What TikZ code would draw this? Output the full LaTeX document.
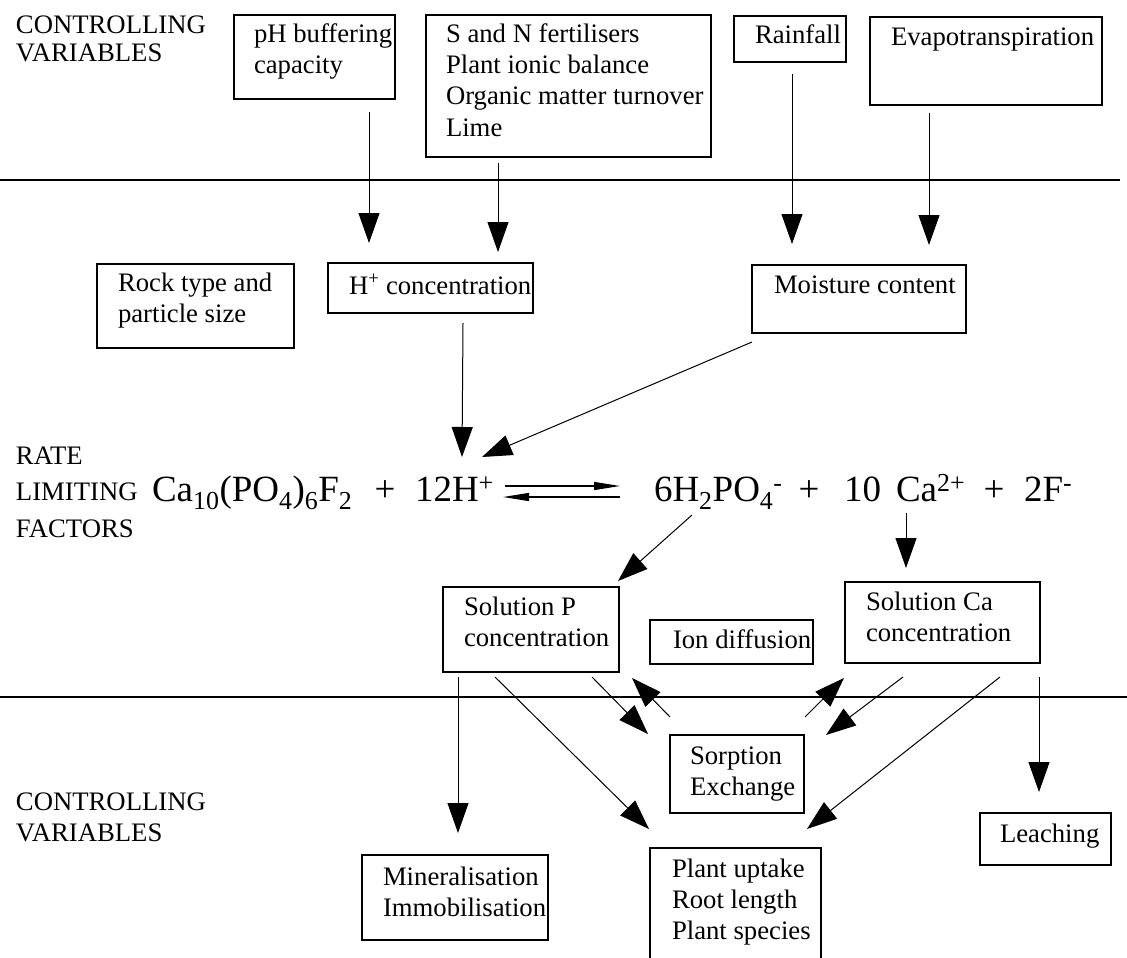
\documentclass[tikz,border=0pt]{standalone}
\usepackage{fontspec}
\setmainfont{Liberation Serif}
\usetikzlibrary{arrows.meta,calc}
\newcommand{\mlines}[1]{\begin{tabular}[t]{@{}l@{}}#1\end{tabular}}
\begin{document}
\begin{tikzpicture}[x=1pt,y=-1pt,
  box/.style={draw, line width=1.1pt, inner sep=0pt, outer sep=0pt},
  txt/.style={anchor=base west, inner sep=0pt, outer sep=0pt, font=\fontsize{26.7pt}{31pt}\selectfont},
  eqtxt/.style={anchor=base west, inner sep=0pt, outer sep=0pt, font=\fontsize{37pt}{40pt}\selectfont},
  arr/.style={line width=1pt, -{Triangle[length=30pt,width=21pt]}},
  eqarr/.style={line width=1.3pt, -{Triangle[length=26pt,width=8pt]}},
  rule/.style={line width=1.5pt}]
\useasboundingbox (0,0) rectangle (1127,958);

% separator lines
\draw[rule] (0,180) -- (1120,180);
\draw[line width=1.1pt] (0,697) -- (1127,697);

% side labels
\node[txt] (ctlA) at (16,34) {CONTROLLING};
\node[txt] (varA) at (16,62) {VARIABLES};
\node[txt] (rate) at (16,464) {RATE};
\node[txt] (limit) at (16,500) {LIMITING};
\node[txt] (factors) at (16,537) {FACTORS};
\node[txt] (ctlB) at (16,810) {CONTROLLING};
\node[txt] (varB) at (16,841) {VARIABLES};

% boxes
\node[box, minimum width=161pt, minimum height=84pt] (ph) at (314.5,57) {};
\node[box, minimum width=285pt, minimum height=142pt] (sn) at (568.5,86) {};
\node[box, minimum width=112pt, minimum height=46pt] (rain) at (790,39) {};
\node[box, minimum width=232pt, minimum height=88pt] (evap) at (986,61) {};
\node[box, minimum width=197pt, minimum height=84pt] (rock) at (195.5,306) {};
\node[box, minimum width=205pt, minimum height=50pt] (hconc) at (430.5,288) {};
\node[box, minimum width=214pt, minimum height=68pt] (moist) at (859,299) {};
\node[box, minimum width=176pt, minimum height=85pt] (solp) at (531,629.5) {};
\node[box, minimum width=163pt, minimum height=44pt] (iond) at (731.5,642) {};
\node[box, minimum width=195pt, minimum height=81pt] (solca) at (942.5,622.5) {};
\node[box, minimum width=134pt, minimum height=78pt] (sorp) at (737,774) {};
\node[box, minimum width=131pt, minimum height=52pt] (leach) at (1045.5,839) {};
\node[box, minimum width=171pt, minimum height=132pt] (plant) at (735.5,914) {};
\node[box, minimum width=186pt, minimum height=85pt] (miner) at (455,897.5) {};

% box texts
\node[txt] (phT) at (254,43) {\mlines{pH buffering\\capacity}};
\node[txt] (snT) at (446,43) {\mlines{S and N fertilisers\\Plant ionic balance\\Organic matter turnover\\Lime}};
\node[txt] (rainT) at (755,44) {Rainfall};
\node[txt] (evapT) at (891,46) {Evapotranspiration};
\node[txt] (rockT) at (118,291) {\mlines{Rock type and\\particle size}};
\node[txt] (hconcT) at (349,294) {H\textsuperscript{+} concentration};
\node[txt] (moistT) at (774,293) {Moisture content};
\node[txt] (solpT) at (464,615) {\mlines{Solution P\\concentration}};
\node[txt] (iondT) at (673,648) {Ion diffusion};
\node[txt] (solcaT) at (866,610) {\mlines{Solution Ca\\concentration}};
\node[txt] (sorpT) at (690,764) {\mlines{Sorption\\Exchange}};
\node[txt] (leachT) at (1000,842) {Leaching};
\node[txt] (plantT) at (672,877) {\mlines{Plant uptake\\Root length\\Plant species}};
\node[txt] (minerT) at (383,885) {\mlines{Mineralisation\\Immobilisation}};

% equation
\node[eqtxt] (apatite) at (152,501) {Ca\textsubscript{10}(PO\textsubscript{4})\textsubscript{6}F\textsubscript{2}};
\node[eqtxt, anchor=base] (plusA) at (385,501) {+};
\node[eqtxt] (hplus) at (415,501) {12H\textsuperscript{+}};
\node[eqtxt] (dihyd) at (654,501) {6H\textsubscript{2}PO\textsubscript{4}\textsuperscript{-}};
\node[eqtxt, anchor=base] (plusB) at (809,501) {+};
\node[eqtxt] (ten) at (844,501) {10};
\node[eqtxt] (ca) at (896,501) {Ca\textsuperscript{2+}};
\node[eqtxt, anchor=base] (plusC) at (994,501) {+};
\node[eqtxt] (fl) at (1024,501) {2F\textsuperscript{-}};

\coordinate (fwdS) at (505,486);
\coordinate (fwdE) at (620,486);
\coordinate (bwdS) at (620,497);
\coordinate (bwdE) at (503,497);
\draw[eqarr] (fwdS) -- (fwdE);
\draw[eqarr] (bwdS) -- (bwdE);

% connectors: controlling variables -> factors
\draw[arr] ([xshift=54.5pt,yshift=-13pt]ph.south) -- ([xshift=-61.5pt,yshift=20pt]hconc.north);
\draw[arr] ([xshift=-70.5pt,yshift=-6pt]sn.south) -- ([xshift=67.5pt,yshift=11pt]hconc.north);
\draw[arr] ([xshift=2pt,yshift=-12pt]rain.south) -- ([xshift=-67pt,yshift=21pt]moist.north);
\draw[arr] ([xshift=-57pt,yshift=-8pt]evap.south) -- ([xshift=70pt,yshift=20pt]moist.north);

% factors -> equation
\draw[arr] ([xshift=32.5pt,yshift=-10pt]hconc.south) -- ($(hplus.base west)+(47,-44)$);
\draw[arr] ([yshift=-9pt]moist.south west) -- ($(hplus.base west)+(67,-44)$);

% equation -> solution boxes
\draw[arr] ($(dihyd.base west)+(38,14)$) -- ([xshift=-1pt,yshift=6pt]solp.north east);
\draw[arr] ($(ca.base west)+(10,12)$) -- ([xshift=-36.5pt,yshift=14pt]solca.north);

% solution P
\draw[arr] ([xshift=-73pt,yshift=-5pt]solp.south) -- ([xshift=3pt,yshift=22pt]miner.north);
\draw[arr] ([xshift=-36pt,yshift=-5pt]solp.south) -- ([xshift=-1pt,yshift=19pt]plant.north west);
\draw[arr] ([xshift=61pt,yshift=-5pt]solp.south) -- ([xshift=-22pt,yshift=1pt]sorp.north west);
\draw[arr] ([yshift=18pt]sorp.north west) -- ([xshift=13pt,yshift=-6pt]solp.south east);

% solution Ca
\draw[arr] ([xshift=1pt,yshift=18pt]sorp.north east) -- ([xshift=-1pt,yshift=-15pt]solca.south west);
\draw[arr] ([xshift=-39.5pt,yshift=-14pt]solca.south) -- ([xshift=22pt]sorp.north east);
\draw[arr] ([xshift=57.5pt,yshift=-14pt]solca.south) -- ([xshift=-14pt,yshift=19pt]plant.north east);
\draw[arr] ([xshift=-1pt,yshift=-14pt]solca.south east) -- ([xshift=-6.5pt,yshift=21pt]leach.north);
\end{tikzpicture}
\end{document}
